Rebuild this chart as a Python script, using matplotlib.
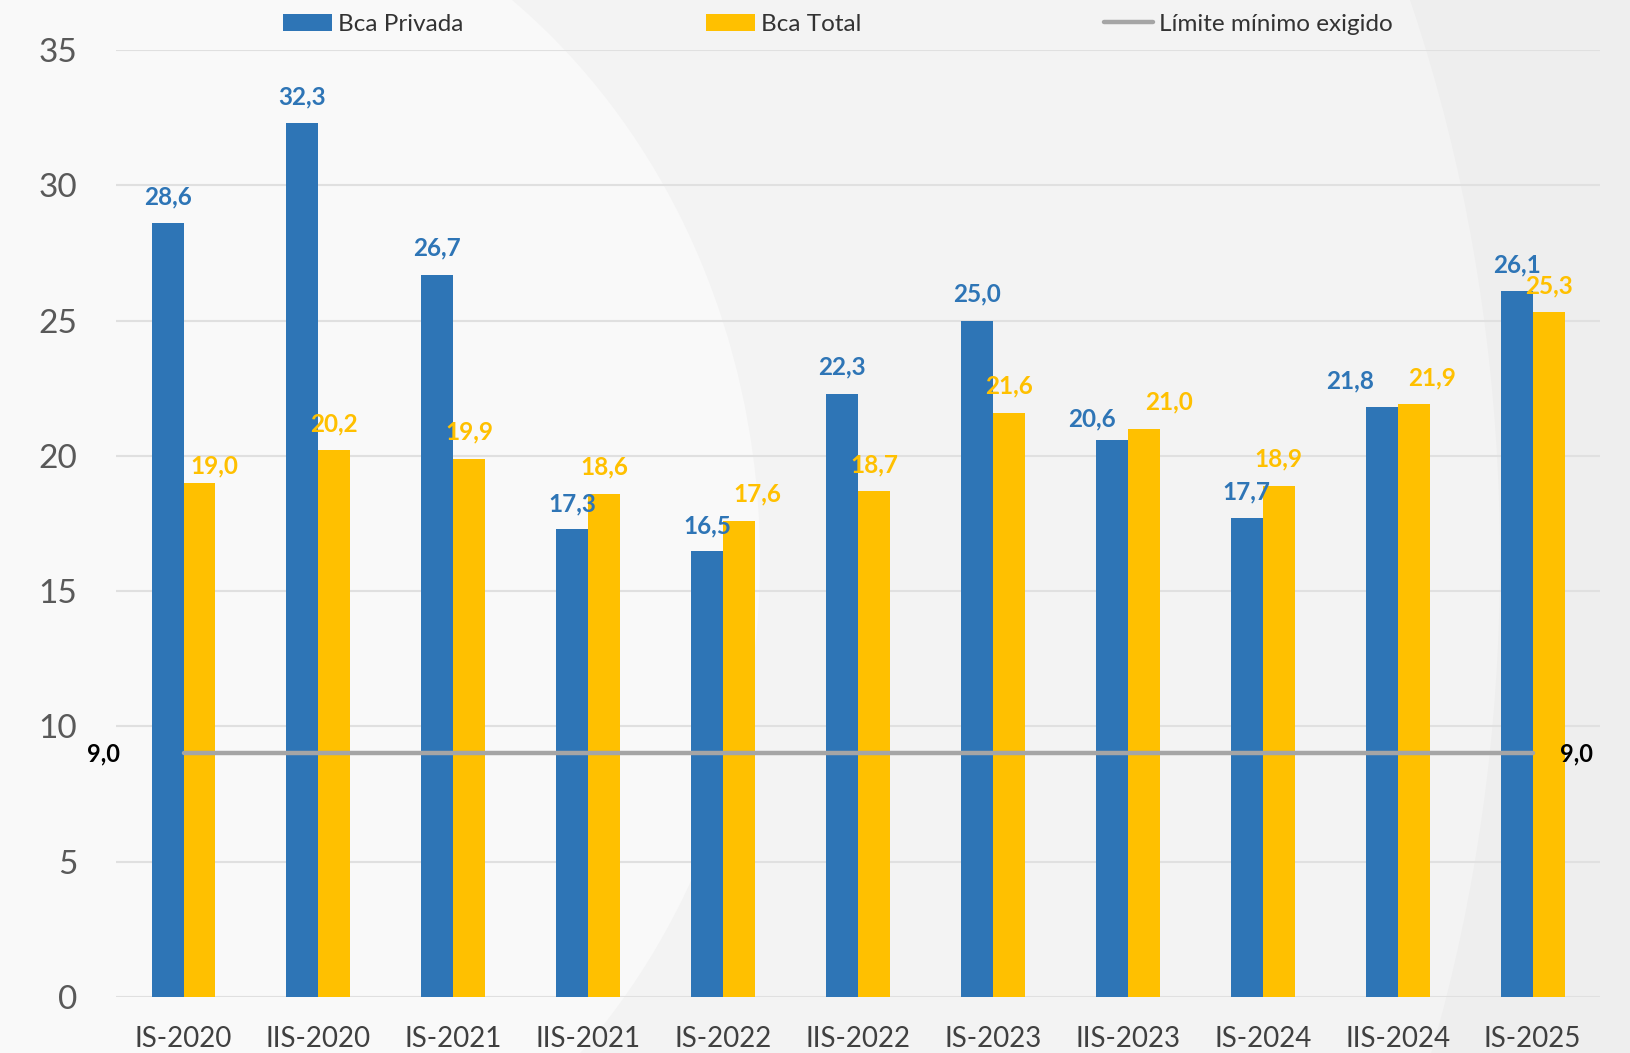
"""
Capital adequacy ratio by semester: private banks vs total banking,
with the regulatory minimum line
"""

import matplotlib.pyplot as plt
from matplotlib.patches import Ellipse
import numpy as np

plt.rcParams['font.family'] = ['Lato', 'DejaVu Sans']

# Data
periods = ['IS-2020', 'IIS-2020', 'IS-2021', 'IIS-2021', 'IS-2022', 'IIS-2022',
           'IS-2023', 'IIS-2023', 'IS-2024', 'IIS-2024', 'IS-2025']
bca_privada = [28.6, 32.3, 26.7, 17.3, 16.5, 22.3, 25.0, 20.6, 17.7, 21.8, 26.1]
bca_total = [19.0, 20.2, 19.9, 18.6, 17.6, 18.7, 21.6, 21.0, 18.9, 21.9, 25.3]
limite_minimo = 9.0
yticks = [0, 5, 10, 15, 20, 25, 30, 35]

BLUE = '#2E75B6'
YELLOW = '#FFC000'
GRAY = '#A5A5A5'

# label nudges (points) copied from the manually placed Excel labels
priv_dx = [0, 0, 0, 0, 0, 0, 0, -14, 0, -23, 0]
priv_dy = [19, 19, 19, 18, 18, 19, 19, 15, 19, 19, 19]
total_dx = [11, 0, 0, 0, 13, 0, 0, 18, 0, 13, 0]
total_dy = [12, 19, 19, 19, 19, 19, 19, 19, 19, 19, 19]


def fmt(v):
    return f'{v:.1f}'.replace('.', ',')


fig = plt.figure(figsize=(16.3, 10.53), dpi=100)
fig.patch.set_facecolor('#eeeeee')

# soft background shapes (pixel coords converted to figure fractions)
W, H = 1630, 1053
fig.add_artist(Ellipse((600 / W, 1 - 560 / H), 1800 / W, 2570 / H,
                       transform=fig.transFigure, facecolor='#f3f3f3',
                       edgecolor='none', zorder=-10))
fig.add_artist(Ellipse((140 / W, 1 - 560 / H), 1240 / W, 1400 / H,
                       transform=fig.transFigure, facecolor='#f9f9f9',
                       edgecolor='none', zorder=-9))

ax = fig.add_axes([0.0712, 0.0532, 0.9816 - 0.0712, 0.9525 - 0.0532])
ax.set_facecolor('none')

x = np.arange(len(periods))
w = 0.237

bars_p = ax.bar(x - w / 2, bca_privada, w, color=BLUE, label='Bca Privada', zorder=3)
bars_t = ax.bar(x + w / 2, bca_total, w, color=YELLOW, label='Bca Total', zorder=3)

line, = ax.plot([x[0], x[-1]], [limite_minimo, limite_minimo], color=GRAY,
                linewidth=3.2, solid_capstyle='round', zorder=4,
                label='Límite mínimo exigido')

# value labels
for i, (bp, bt) in enumerate(zip(bars_p, bars_t)):
    ax.annotate(fmt(bca_privada[i]), (bp.get_x() + bp.get_width() / 2, bca_privada[i]),
                xytext=(priv_dx[i], priv_dy[i]), textcoords='offset points',
                ha='center', va='center', fontsize=17.5, fontweight='bold',
                color=BLUE, zorder=5)
    ax.annotate(fmt(bca_total[i]), (bt.get_x() + bt.get_width() / 2, bca_total[i]),
                xytext=(total_dx[i], total_dy[i]), textcoords='offset points',
                ha='center', va='center', fontsize=17.5, fontweight='bold',
                color=YELLOW, zorder=5)

ax.annotate(fmt(limite_minimo), (x[0], limite_minimo), xytext=(-46, 0),
            textcoords='offset points', ha='right', va='center',
            fontsize=17, fontweight='bold', color='black')
ax.annotate(fmt(limite_minimo), (x[-1], limite_minimo), xytext=(20, 0),
            textcoords='offset points', ha='left', va='center',
            fontsize=17, fontweight='bold', color='black')

# Axes formatting
ax.set_xlim(-0.5, len(periods) - 0.5)
ax.set_ylim(0, 35)
ax.set_yticks(yticks)
ax.set_xticks(x)
ax.set_xticklabels(periods)
ax.tick_params(axis='y', length=0, pad=28, labelsize=24, labelcolor='#595959')
ax.tick_params(axis='x', length=0, pad=21, labelsize=20, labelcolor='#404040')
ax.grid(axis='y', color='#e0e0e0', linewidth=1.5, zorder=0)
ax.set_axisbelow(True)
for s in ax.spines.values():
    s.set_visible(False)

leg = fig.legend(handles=[bars_p, bars_t, line], loc='center',
                 bbox_to_anchor=(0.514, 0.977), ncol=3, frameon=False,
                 fontsize=17.5, columnspacing=10, handletextpad=0.25,
                 handlelength=2.0)
for t in leg.get_texts():
    t.set_color('#333333')

plt.savefig('out.png', dpi=100, facecolor=fig.get_facecolor())
print('saved out.png')
